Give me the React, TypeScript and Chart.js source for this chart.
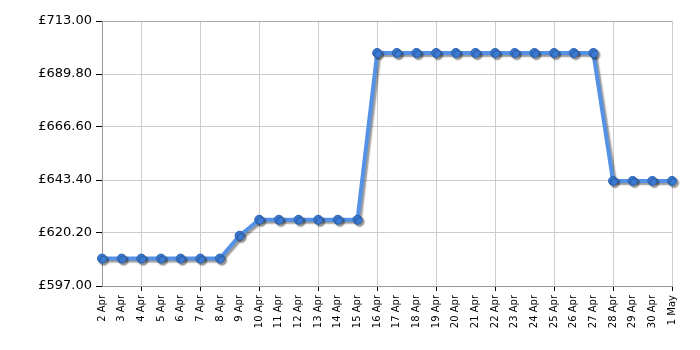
import React, { useEffect, useRef } from "react";
import { Chart, registerables } from "chart.js";

Chart.register(...registerables);

const categories = [
  "2 Apr", "3 Apr", "4 Apr", "5 Apr", "6 Apr", "7 Apr", "8 Apr", "9 Apr", "10 Apr", "11 Apr",
  "12 Apr", "13 Apr", "14 Apr", "15 Apr", "16 Apr", "17 Apr", "18 Apr", "19 Apr", "20 Apr", "21 Apr",
  "22 Apr", "23 Apr", "24 Apr", "25 Apr", "26 Apr", "27 Apr", "28 Apr", "29 Apr", "30 Apr", "1 May",
];

const prices = [
  609, 609, 609, 609, 609, 609, 609, 619, 626, 626,
  626, 626, 626, 626, 699, 699, 699, 699, 699, 699,
  699, 699, 699, 699, 699, 699, 643, 643, 643, 643,
];

const yTicks = [597, 620.2, 643.4, 666.6, 689.8, 713];

const shadowPlugin = {
  id: "lineShadow",
  beforeDatasetsDraw(chart: any) {
    const ctx = chart.ctx;
    ctx.save();
    ctx.shadowColor = "rgba(0,0,0,0.4)";
    ctx.shadowBlur = 1.5;
    ctx.shadowOffsetX = 2;
    ctx.shadowOffsetY = 2;
  },
  afterDatasetsDraw(chart: any) {
    chart.ctx.restore();
  },
};

export default function App() {
  const ref = useRef<HTMLCanvasElement | null>(null);
  useEffect(() => {
    document.body.style.margin = "0";
    const chart = new Chart(ref.current as HTMLCanvasElement, {
      type: "line",
      data: {
        labels: categories,
        datasets: [
          {
            data: prices,
            borderColor: "#5592e6",
            borderWidth: 4,
            pointRadius: 4.5,
            pointHoverRadius: 4.5,
            pointBackgroundColor: "#3b7bd6",
            pointBorderColor: "#2d62b0",
            pointBorderWidth: 1,
            tension: 0,
            clip: false as any,
          },
        ],
      },
      options: {
        animation: false,
        responsive: false,
        maintainAspectRatio: false,
        layout: { padding: { top: 21, right: 28, left: 0, bottom: 0 } },
        plugins: { legend: { display: false }, tooltip: { enabled: false } },
        scales: {
          x: {
            type: "category",
            offset: false,
            afterFit: (s: any) => {
              s.height = 64;
            },
            border: { display: true, color: "#999999", width: 1 },
            grid: {
              color: (c: any) => (c.index % 3 === 2 ? "#cccccc" : "transparent"),
              tickColor: (c: any) => (c.index % 3 === 2 ? "#000000" : "transparent"),
              tickLength: 5,
              drawTicks: true,
            },
            ticks: {
              autoSkip: false,
              maxRotation: 90,
              minRotation: 90,
              padding: 4,
              color: "#000000",
              font: { family: "DejaVu Sans", size: 10 },
            },
          },
          y: {
            min: 597,
            max: 713,
            afterFit: (s: any) => {
              s.width = 102;
            },
            afterBuildTicks: (s: any) => {
              s.ticks = yTicks.map((v) => ({ value: v }));
            },
            border: { display: true, color: "#999999", width: 1 },
            grid: {
              color: (c: any) => (c.index === yTicks.length - 1 ? "#aaaaaa" : "#cccccc"),
              tickColor: "#000000",
              tickLength: 6,
            },
            ticks: {
              padding: 4,
              color: "#000000",
              font: { family: "DejaVu Sans", size: 13 },
              callback: (v: any) => "£" + Number(v).toFixed(2),
            },
          },
        },
      },
      plugins: [shadowPlugin],
    });
    return () => chart.destroy();
  }, []);
  return (
    <div style={{ width: 700, height: 350 }}>
      <canvas ref={ref} width={700} height={350} style={{ width: 700, height: 350 }} />
    </div>
  );
}
